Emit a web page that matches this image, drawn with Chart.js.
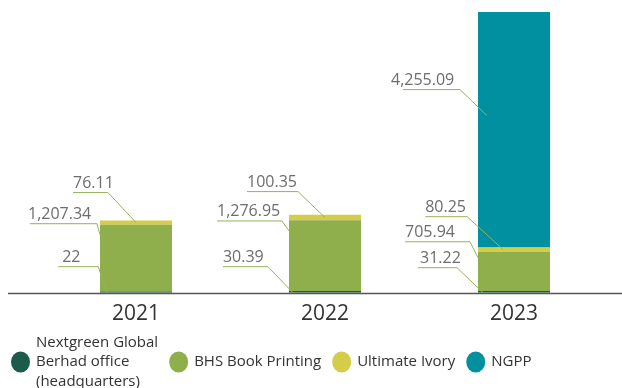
<!DOCTYPE html>
<html>
<head>
<meta charset="utf-8">
<script src="https://cdn.jsdelivr.net/npm/chart.js@4.4.0/dist/chart.umd.min.js"></script>
<style>
  html, body { margin: 0; padding: 0; background: #fff; }
  #wrap { width: 622px; height: 388px; }
</style>
</head>
<body>
<div id="wrap"><canvas id="energyChart" width="622" height="388"></canvas></div>
<script>
const years = ['2021', '2022', '2023'];
const seriesNames = ['Nextgreen Global\nBerhad office\n(headquarters)', 'BHS Book Printing', 'Ultimate Ivory', 'NGPP'];
const hqOffice = [22, 30.39, 31.22];
const bhsPrinting = [1207.34, 1276.95, 705.94];
const ultimateIvory = [76.11, 100.35, 80.25];
const ngpp = [0, 0, 4255.09];
const seriesColors = ['#1c5b4c', '#8fae4c', '#d5cc4a', '#0090a0'];

const FONT = "'Open Sans', 'Noto Sans', sans-serif";

// callouts: anchor on the segment (ax across bar, ay down the segment),
// elbow offset from the anchor, underline length, text shift
const callouts = [
  [{ax: .1, ay: 1, dx: -9, dy: -26, len: 40, tx: 4}, {ax: .055, ay: 1, dx: -25, dy: -26, len: 45}, {ax: .07, ay: 1, dx: -26, dy: -25, len: 39, tx: 2}],
  [{ax: 0, ay: .15, dx: -3, dy: -11, len: 67, tx: -2}, {ax: 0, ay: .15, dx: -7, dy: -10, len: 65}, {ax: 0, ay: .15, dx: -8, dy: -16, len: 65}],
  [{ax: .5, ay: .5, dx: -28, dy: -30, len: 35}, {ax: .5, ay: .5, dx: -27, dy: -26, len: 51}, {ax: .35, ay: .5, dx: -36, dy: -33, len: 42}],
  [null, null, {ax: .125, ay: .44, dx: -27, dy: -26, len: 57, tx: -12}]
];

const allSeries = [hqOffice, bhsPrinting, ultimateIvory, ngpp];
const stackTotals = years.map((y, i) => allSeries.reduce((s, arr) => s + arr[i], 0));
const yMax = Math.max(...stackTotals);

const fmt = v => v.toLocaleString('en-US', {maximumFractionDigits: 2});

const calloutPlugin = {
  id: 'callouts',
  afterDatasetsDraw(chart) {
    const ctx = chart.ctx;
    const y0 = chart.scales.y.getPixelForValue(0);

    // baseline runs nearly the full width
    ctx.save();
    ctx.strokeStyle = '#555';
    ctx.lineWidth = 1.5;
    ctx.beginPath();
    ctx.moveTo(8, y0 + 0.75);
    ctx.lineTo(chart.width, y0 + 0.75);
    ctx.stroke();

    ctx.font = '16px ' + FONT;
    ctx.fillStyle = '#6d6d6d';
    ctx.textAlign = 'left';
    ctx.textBaseline = 'alphabetic';
    chart.data.datasets.forEach((ds, di) => {
      const meta = chart.getDatasetMeta(di);
      meta.data.forEach((bar, i) => {
        const c = callouts[di][i];
        if (!c || !ds.data[i]) return;
        const p = bar.getProps(['x', 'y', 'base', 'width'], true);
        const axPx = p.x - p.width / 2 + c.ax * p.width;
        const ayPx = p.y + c.ay * (p.base - p.y);
        const ex = axPx + c.dx, ey = ayPx + c.dy;
        ctx.strokeStyle = '#96b357';
        ctx.lineWidth = 1;
        ctx.beginPath();
        ctx.moveTo(ex - c.len, ey);
        ctx.lineTo(ex, ey);
        ctx.lineTo(axPx, ayPx);
        ctx.stroke();
        ctx.fillText(fmt(ds.data[i]), ex - c.len + (c.tx || 0), ey - 5);
      });
    });
    ctx.restore();
  },
  afterDraw(chart) {
    // legend row along the bottom
    const ctx = chart.ctx;
    const cy = 362;
    let x = 11;
    ctx.save();
    ctx.font = '15px ' + FONT;
    ctx.textBaseline = 'middle';
    ctx.textAlign = 'left';
    chart.data.datasets.forEach(ds => {
      ctx.fillStyle = ds.backgroundColor;
      ctx.beginPath();
      ctx.ellipse(x + 9.5, cy, 9.5, 10.5, 0, 0, Math.PI * 2);
      ctx.fill();
      const lines = ds.label.split('\n');
      const lh = 19.5;
      let w = 0;
      ctx.fillStyle = '#333';
      lines.forEach((ln, k) => {
        ctx.fillText(ln, x + 25, cy + (k - (lines.length - 1) / 2) * lh);
        w = Math.max(w, ctx.measureText(ln).width);
      });
      x += 25 + w + 11;
    });
    ctx.restore();
  }
};

new Chart(document.getElementById('energyChart'), {
  type: 'bar',
  data: {
    labels: years,
    datasets: allSeries.map((arr, i) => ({
      label: seriesNames[i],
      data: arr,
      backgroundColor: seriesColors[i],
      borderWidth: 0,
      categoryPercentage: 1,
      barPercentage: 0.381
    }))
  },
  options: {
    responsive: false,
    animation: false,
    devicePixelRatio: 1,
    layout: { padding: { left: 41.5, right: 13.5, top: 12, bottom: 60.3 } },
    plugins: { legend: { display: false }, tooltip: { enabled: false } },
    scales: {
      x: {
        stacked: true,
        grid: { display: false, drawTicks: false },
        border: { display: false },
        ticks: { color: '#333', padding: 8.8, font: { family: FONT, size: 21 } },
        afterFit(scale) { scale.height = 35; }
      },
      y: { stacked: true, display: false, min: 0, max: yMax }
    }
  },
  plugins: [calloutPlugin]
});
</script>
</body>
</html>
